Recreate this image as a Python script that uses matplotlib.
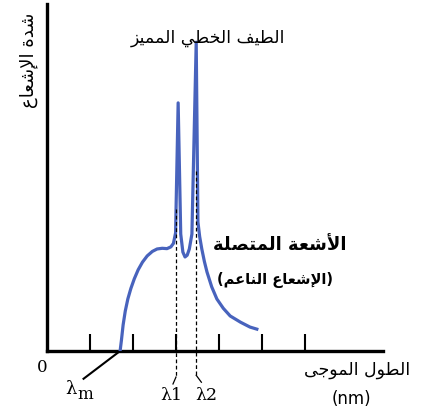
import matplotlib
matplotlib.use('Agg')
import matplotlib.pyplot as plt

# --- minimal arabic shaping (presentation forms + visual order) ---
FOUR = {'ئ': 0xFE89, 'ب': 0xFE8F, 'ت': 0xFE95, 'ث': 0xFE99, 'ج': 0xFE9D, 'ح': 0xFEA1,
        'خ': 0xFEA5, 'س': 0xFEB1, 'ش': 0xFEB5, 'ص': 0xFEB9, 'ض': 0xFEBD, 'ط': 0xFEC1,
        'ظ': 0xFEC5, 'ع': 0xFEC9, 'غ': 0xFECD, 'ف': 0xFED1, 'ق': 0xFED5, 'ك': 0xFED9,
        'ل': 0xFEDD, 'م': 0xFEE1, 'ن': 0xFEE5, 'ه': 0xFEE9, 'ي': 0xFEF1}
TWO = {'آ': 0xFE81, 'أ': 0xFE83, 'ؤ': 0xFE85, 'إ': 0xFE87, 'ا': 0xFE8D, 'ة': 0xFE93,
       'د': 0xFEA9, 'ذ': 0xFEAB, 'ر': 0xFEAD, 'ز': 0xFEAF, 'و': 0xFEED, 'ى': 0xFEEF,
       'لآ': 0xFEF5, 'لأ': 0xFEF7, 'لإ': 0xFEF9, 'لا': 0xFEFB}


def shape(s):
    units = []
    i = 0
    while i < len(s):
        if s[i] == 'ل' and i + 1 < len(s) and s[i:i + 2] in TWO:
            units.append(s[i:i + 2])
            i += 2
        else:
            units.append(s[i])
            i += 1
    out = []
    for k, u in enumerate(units):
        prev = units[k - 1] if k > 0 else None
        nxt = units[k + 1] if k + 1 < len(units) else None
        joins_prev = prev in FOUR and (u in FOUR or u in TWO)
        joins_next = u in FOUR and (nxt in FOUR or nxt in TWO)
        if u in FOUR:
            off = 3 if (joins_prev and joins_next) else 2 if joins_next else 1 if joins_prev else 0
            out.append(chr(FOUR[u] + off))
        elif u in TWO:
            out.append(chr(TWO[u] + (1 if joins_prev else 0)))
        else:
            out.append(u)
    res = ''.join(reversed(out))
    return res.translate(str.maketrans('()', ')('))


# --- data (x in tick units, y in relative intensity) ---
wave_x = [1.70, 1.73, 1.77, 1.82, 1.88, 1.95, 2.03, 2.12, 2.22, 2.33, 2.45, 2.56, 2.68, 2.79, 2.88,
          2.94, 2.99, 3.05, 3.11, 3.16, 3.21, 3.26, 3.31, 3.37, 3.47,
          3.51, 3.55, 3.60, 3.66, 3.72, 3.83, 3.95, 4.10, 4.26, 4.50, 4.72, 4.88]
intensity = [0, 3.0, 7.5, 11.5, 15.0, 18.0, 20.8, 23.4, 25.6, 27.4, 28.7, 29.4, 29.6, 29.5, 30.0,
             31.0, 34.0, 71.5, 33.7, 28.5, 27.1, 27.6, 29.4, 33.7, 89.0,
             37.2, 33.0, 29.4, 25.8, 22.8, 18.5, 15.0, 12.3, 10.1, 8.3, 6.9, 6.3]
tick_pos = [1, 2, 3, 4, 5, 6]
lambda1, lambda2, lambda_m = 3.00, 3.47, 1.70

title = 'الطيف الخطي المميز'
ylabel = 'شدة الإشعاع'
xlabel = 'الطول الموجى'
cont_label = 'الأشعة المتصلة'
cont_sub = '(الإشعاع الناعم)'

blue = '#4863bd'

fig = plt.figure(figsize=(4.24, 4.10), dpi=100)
ax = fig.add_axes([47 / 424, 58 / 410, 336 / 424, 347 / 410])
ax.set_xlim(0, 336 / 43)
ax.set_ylim(0, 100)

ax.plot(wave_x, intensity, color=blue, lw=2.3, solid_joinstyle='round', zorder=3)

# dashed guides for the two lines
ax.plot([lambda1, lambda1], [41, -7.5], color='black', ls=(0, (3, 2)), lw=0.9, clip_on=False, zorder=4)
ax.plot([lambda1, lambda1 - 0.07], [-7.5, -9.5], color='black', lw=0.9, clip_on=False)
ax.plot([lambda2, lambda2], [52, -7], color='black', ls=(0, (3, 2)), lw=0.9, clip_on=False, zorder=4)
ax.plot([lambda2, lambda2 + 0.12], [-7, -9], color='black', lw=0.9, clip_on=False)
ax.plot([lambda_m, lambda_m - 0.85], [0, -8.0], color='black', lw=1.5, clip_on=False)

for s in ['top', 'right']:
    ax.spines[s].set_visible(False)
for s in ['left', 'bottom']:
    ax.spines[s].set_linewidth(2.4)
ax.set_xticks(tick_pos)
ax.set_xticklabels([])
ax.set_yticks([])
ax.tick_params(axis='x', direction='in', length=12, width=1.5)

ax.text(-0.12, -4.4, '0', fontsize=12, family='DejaVu Serif', ha='center', va='center')
ax.text(0.68, -10.8, 'λ', fontsize=13, family='DejaVu Serif', ha='right', va='center')
ax.text(0.70, -12.2, 'm', fontsize=12, family='DejaVu Serif', ha='left', va='center')
ax.text(2.88, -12.4, 'λ1', fontsize=12.5, family='DejaVu Serif', ha='center', va='center')
ax.text(3.70, -12.4, 'λ2', fontsize=12.5, family='DejaVu Serif', ha='center', va='center')

ax.text(3.74, 90.5, shape(title), fontsize=12.5, ha='center', va='center', clip_on=False)
ax.text(-0.42, 84, shape(ylabel), fontsize=13, ha='center', va='center', rotation=90, clip_on=False)
ax.text(7.22, -5.2, shape(xlabel), fontsize=12.5, ha='center', va='center', clip_on=False)
ax.text(7.07, -13.5, '(nm)', fontsize=12, ha='center', va='center', clip_on=False)
ax.text(5.42, 30.8, shape(cont_label), fontsize=13, fontweight='bold', ha='center', va='center')
ax.text(5.30, 20.7, shape(cont_sub), fontsize=10.5, fontweight='bold', ha='center', va='center')

fig.savefig('out.png', dpi=100)
